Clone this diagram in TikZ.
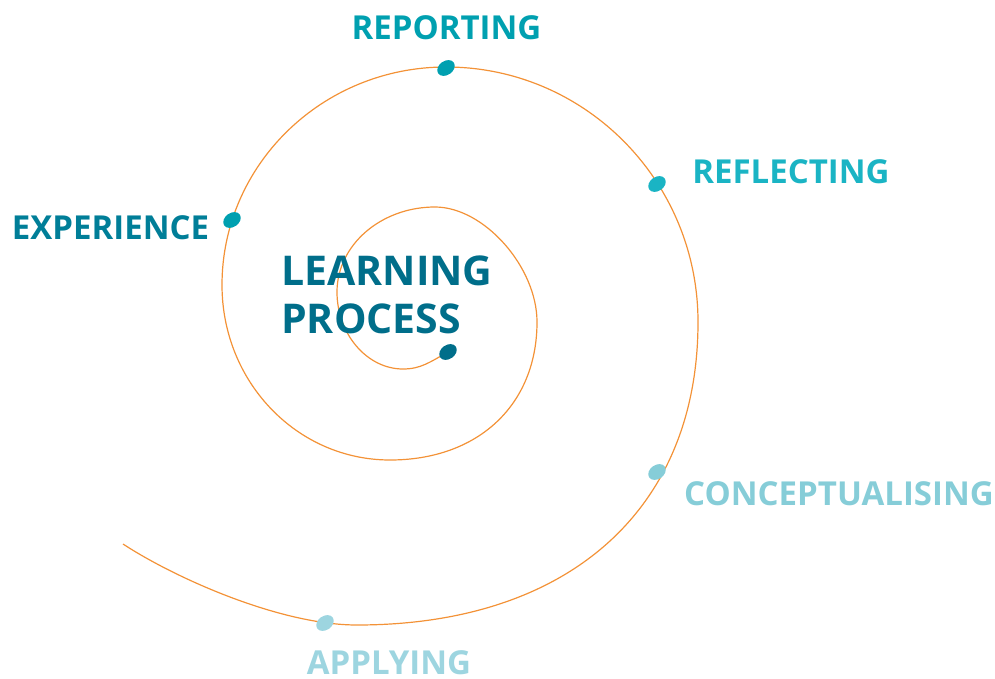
\documentclass[tikz,border=0pt]{standalone}
\usepackage{fontspec}
\setmainfont{Open Sans}
\usetikzlibrary{shapes.geometric}
\definecolor{orng}{HTML}{F39237}
\definecolor{cReport}{HTML}{00A0B0}
\definecolor{cReflect}{HTML}{1AB4C4}
\definecolor{cExper}{HTML}{007E98}
\definecolor{cLearn}{HTML}{006E8A}
\definecolor{cConcept}{HTML}{86CDD8}
\definecolor{cApply}{HTML}{9DD5E0}
\begin{document}
\begin{tikzpicture}[x=1pt,y=-1pt,
  lbl/.style={font=\fontsize{33}{38}\selectfont\bfseries, inner sep=0pt, anchor=base},
  big/.style={font=\fontsize{41}{48}\selectfont\bfseries, inner sep=0pt, anchor=base west, text=cLearn},
  spot/.style={ellipse, minimum width=19pt, minimum height=14pt, inner sep=0pt, rotate=35}]
\useasboundingbox (0,0) rectangle (995,679);
\coordinate (s0) at (448,352);
\coordinate (b1) at (403,369);
\coordinate (l1) at (337,292);
\coordinate (t1) at (435,207);
\coordinate (r1) at (537,322);
\coordinate (b2) at (390,460);
\coordinate (l2) at (222,285);
\coordinate (t2) at (446,67);
\coordinate (r2) at (698,322);
\coordinate (b3) at (357,625);
\coordinate (e0) at (123,544);
\draw[orng, line width=1.2pt] (s0)
  .. controls (430,362) and (421,369) .. (b1)
  .. controls (367,369) and (337,334) .. (l1)
  .. controls (337,245) and (381,207) .. (t1)
  .. controls (484,207) and (537,267) .. (r1)
  .. controls (537,405) and (478,460) .. (b2)
  .. controls (297,460) and (222,382) .. (l2)
  .. controls (222,165) and (322,67) .. (t2)
  .. controls (585,67) and (698,181) .. (r2)
  .. controls (698,510) and (568,625) .. (b3)
  .. controls (280,625) and (175,578) .. (e0);
\node[spot, fill=cLearn] (d0) at (448,352) {};
\node[spot, fill=cReport] (d1) at (232,220) {};
\node[spot, fill=cReport] (d2) at (446,68) {};
\node[spot, fill=cReflect] (d3) at (657,184) {};
\node[spot, fill=cConcept] (d4) at (657,472) {};
\node[spot, fill=cApply] (d5) at (325,623) {};
\node[big] (t0a) at (281,285) {LEARNING};
\node[big] (t0b) at (281,333) {PROCESS};
\node[lbl, text=cExper] (t1) at (110.5,239) {EXPERIENCE};
\node[lbl, text=cReport] (t2) at (446.5,40) {REPORTING};
\node[lbl, text=cReflect] (t3) at (791,183) {REFLECTING};
\node[lbl, text=cConcept] (t4) at (839,505) {CONCEPTUALISING};
\node[lbl, text=cApply] (t5) at (389,674) {APPLYING};
\end{tikzpicture}
\end{document}
